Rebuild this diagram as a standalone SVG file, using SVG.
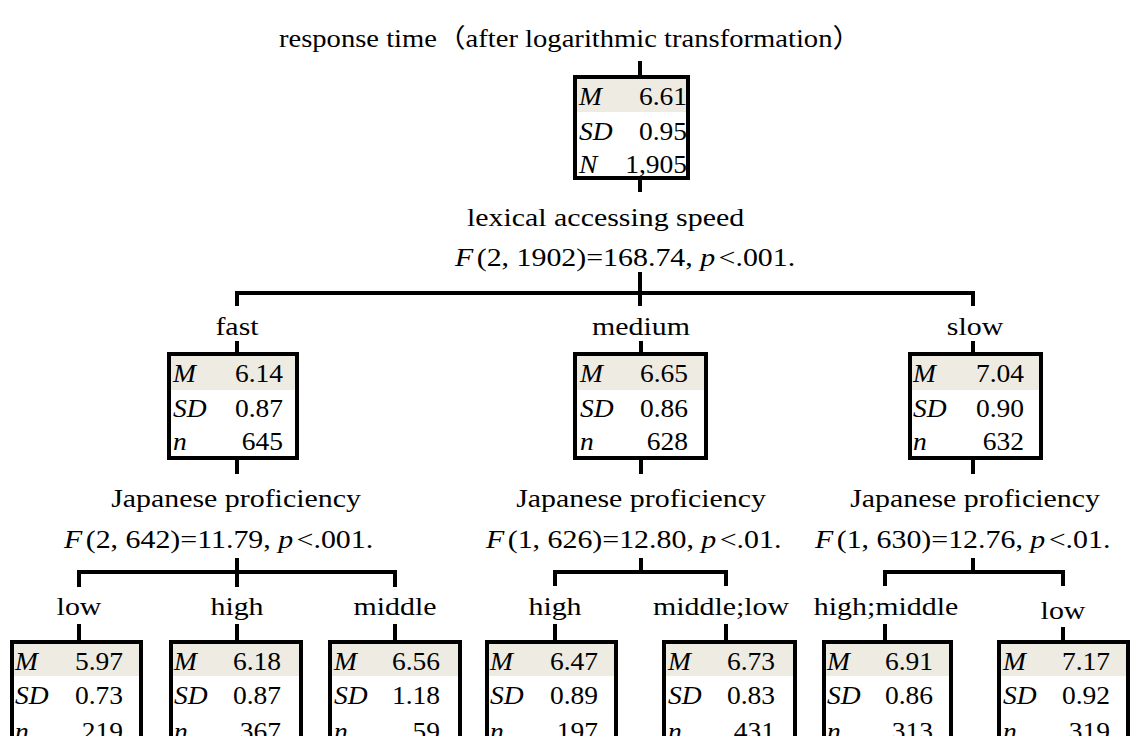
<svg xmlns="http://www.w3.org/2000/svg" width="1141" height="736" viewBox="0 0 1141 736" font-family="'Liberation Serif', 'Noto Sans CJK JP', serif">
<style>
  .bg{fill:#ffffff}
  .box{fill:#ffffff;stroke:#000000;stroke-width:4}
  .sh{fill:#EDEBE2}
  .ln{fill:none;stroke:#000000;stroke-width:4;stroke-linejoin:miter}
  .lbl{font-family:'Liberation Serif','Noto Sans CJK JP',serif;font-size:26px;text-anchor:middle;fill:#000000}
  .st{font-family:'Liberation Serif','Noto Sans CJK JP',serif;font-size:26px;text-anchor:start;fill:#000000}
  .k{font-family:'Liberation Serif',serif;font-size:25px;font-style:italic;text-anchor:start;fill:#000000}
  .v{font-family:'Liberation Serif',serif;font-size:25px;text-anchor:end;fill:#000000}
  .i{font-style:italic}
</style>
<rect class="bg" x="0" y="0" width="1141" height="736"/>

<g id="connectors">
  <path class="ln" d="M640,61 V77"/>
  <path class="ln" d="M640,178 V192"/>
  <path class="ln" d="M640,272 V306"/>
  <path class="ln" d="M237,306 V293 H973 V306"/>
  <path class="ln" d="M237,341 V354 M641,341 V354 M973,341 V354"/>
  <path class="ln" d="M237,458 V474 M641,458 V474 M973,458 V474"/>
  <path class="ln" d="M237,558 V587"/>
  <path class="ln" d="M79,587 V572 H395 V587"/>
  <path class="ln" d="M641,558 V572"/>
  <path class="ln" d="M555,586 V572 H726 V586"/>
  <path class="ln" d="M973,558 V572"/>
  <path class="ln" d="M885,586 V572 H1063 V586"/>
  <path class="ln" d="M79,624 V642 M237,624 V642 M395,624 V642 M555,624 V642 M726,624 V642 M885,624 V642 M1063,627 V642"/>
</g>

<g id="title">
  <text class="lbl" transform="translate(570,47) scale(1.1,1)">response time（after logarithmic transformation）</text>
</g>

<g id="node-root">
  <rect class="box" x="575" y="77" width="113" height="101"/>
  <rect class="sh" x="577" y="79" width="109" height="33"/>
  <text class="k" transform="translate(579,105) scale(1.1,1)">M</text>
  <text class="v" transform="translate(687,105) scale(1.1,1)">6.61</text>
  <text class="k" transform="translate(579,140) scale(1.1,1)">SD</text>
  <text class="v" transform="translate(687,140) scale(1.1,1)">0.95</text>
  <text class="k" transform="translate(579,173) scale(1.1,1)">N</text>
  <text class="v" transform="translate(687,173) scale(1.1,1)">1,905</text>
</g>

<g id="split-root">
  <text class="st" transform="translate(467,226) scale(1.15,1)">lexical accessing speed</text>
  <text class="st" transform="translate(455,266) scale(1.15,1)"><tspan class="i">F</tspan><tspan dx="3">(2, 1902)=168.74, </tspan><tspan class="i">p</tspan><tspan dx="3">&lt;.001.</tspan></text>
</g>

<g id="node-fast">
  <text class="lbl" transform="translate(237,335) scale(1.15,1)">fast</text>
  <rect class="box" x="169" y="354" width="128" height="104"/>
  <rect class="sh" x="171" y="356" width="124" height="34"/>
  <text class="k" transform="translate(173,382) scale(1.1,1)">M</text>
  <text class="v" transform="translate(283,382) scale(1.1,1)">6.14</text>
  <text class="k" transform="translate(173,417) scale(1.1,1)">SD</text>
  <text class="v" transform="translate(283,417) scale(1.1,1)">0.87</text>
  <text class="k" transform="translate(173,450) scale(1.1,1)">n</text>
  <text class="v" transform="translate(283,450) scale(1.1,1)">645</text>
  <text class="lbl" transform="translate(236,507) scale(1.15,1)">Japanese proficiency</text>
  <text class="st" transform="translate(64,548) scale(1.15,1)"><tspan class="i">F</tspan><tspan dx="3">(2, 642)=11.79, </tspan><tspan class="i">p</tspan><tspan dx="3">&lt;.001.</tspan></text>
</g>

<g id="node-medium">
  <text class="lbl" transform="translate(641,335) scale(1.15,1)">medium</text>
  <rect class="box" x="575" y="354" width="131" height="104"/>
  <rect class="sh" x="577" y="356" width="127" height="34"/>
  <text class="k" transform="translate(580,382) scale(1.1,1)">M</text>
  <text class="v" transform="translate(688,382) scale(1.1,1)">6.65</text>
  <text class="k" transform="translate(580,417) scale(1.1,1)">SD</text>
  <text class="v" transform="translate(688,417) scale(1.1,1)">0.86</text>
  <text class="k" transform="translate(580,450) scale(1.1,1)">n</text>
  <text class="v" transform="translate(688,450) scale(1.1,1)">628</text>
  <text class="lbl" transform="translate(641,507) scale(1.15,1)">Japanese proficiency</text>
  <text class="st" transform="translate(486,548) scale(1.15,1)"><tspan class="i">F</tspan><tspan dx="3">(1, 626)=12.80, </tspan><tspan class="i">p</tspan><tspan dx="3">&lt;.01.</tspan></text>
</g>

<g id="node-slow">
  <text class="lbl" transform="translate(975,335) scale(1.15,1)">slow</text>
  <rect class="box" x="910" y="354" width="131" height="104"/>
  <rect class="sh" x="912" y="356" width="127" height="34"/>
  <text class="k" transform="translate(913,382) scale(1.1,1)">M</text>
  <text class="v" transform="translate(1024,382) scale(1.1,1)">7.04</text>
  <text class="k" transform="translate(913,417) scale(1.1,1)">SD</text>
  <text class="v" transform="translate(1024,417) scale(1.1,1)">0.90</text>
  <text class="k" transform="translate(913,450) scale(1.1,1)">n</text>
  <text class="v" transform="translate(1024,450) scale(1.1,1)">632</text>
  <text class="lbl" transform="translate(975,507) scale(1.15,1)">Japanese proficiency</text>
  <text class="st" transform="translate(815,548) scale(1.15,1)"><tspan class="i">F</tspan><tspan dx="3">(1, 630)=12.76, </tspan><tspan class="i">p</tspan><tspan dx="3">&lt;.01.</tspan></text>
</g>

<g id="node-fast-low">
  <text class="lbl" transform="translate(79,615) scale(1.15,1)">low</text>
  <rect class="box" x="12" y="642" width="129" height="110"/>
  <rect class="sh" x="14" y="644" width="125" height="32"/>
  <text class="k" transform="translate(15,670) scale(1.1,1)">M</text>
  <text class="v" transform="translate(123,670) scale(1.1,1)">5.97</text>
  <text class="k" transform="translate(15,704) scale(1.1,1)">SD</text>
  <text class="v" transform="translate(123,704) scale(1.1,1)">0.73</text>
  <text class="k" transform="translate(15,740) scale(1.1,1)">n</text>
  <text class="v" transform="translate(123,740) scale(1.1,1)">219</text>
</g>

<g id="node-fast-high">
  <text class="lbl" transform="translate(237,615) scale(1.15,1)">high</text>
  <rect class="box" x="171" y="642" width="130" height="110"/>
  <rect class="sh" x="173" y="644" width="126" height="32"/>
  <text class="k" transform="translate(174,670) scale(1.1,1)">M</text>
  <text class="v" transform="translate(281,670) scale(1.1,1)">6.18</text>
  <text class="k" transform="translate(174,704) scale(1.1,1)">SD</text>
  <text class="v" transform="translate(281,704) scale(1.1,1)">0.87</text>
  <text class="k" transform="translate(174,740) scale(1.1,1)">n</text>
  <text class="v" transform="translate(281,740) scale(1.1,1)">367</text>
</g>

<g id="node-fast-middle">
  <text class="lbl" transform="translate(395,615) scale(1.15,1)">middle</text>
  <rect class="box" x="330" y="642" width="130" height="110"/>
  <rect class="sh" x="332" y="644" width="126" height="32"/>
  <text class="k" transform="translate(334,670) scale(1.1,1)">M</text>
  <text class="v" transform="translate(440,670) scale(1.1,1)">6.56</text>
  <text class="k" transform="translate(334,704) scale(1.1,1)">SD</text>
  <text class="v" transform="translate(440,704) scale(1.1,1)">1.18</text>
  <text class="k" transform="translate(334,740) scale(1.1,1)">n</text>
  <text class="v" transform="translate(440,740) scale(1.1,1)">59</text>
</g>

<g id="node-medium-high">
  <text class="lbl" transform="translate(555,615) scale(1.15,1)">high</text>
  <rect class="box" x="487" y="642" width="129" height="110"/>
  <rect class="sh" x="489" y="644" width="125" height="32"/>
  <text class="k" transform="translate(490,670) scale(1.1,1)">M</text>
  <text class="v" transform="translate(598,670) scale(1.1,1)">6.47</text>
  <text class="k" transform="translate(490,704) scale(1.1,1)">SD</text>
  <text class="v" transform="translate(598,704) scale(1.1,1)">0.89</text>
  <text class="k" transform="translate(490,740) scale(1.1,1)">n</text>
  <text class="v" transform="translate(598,740) scale(1.1,1)">197</text>
</g>

<g id="node-medium-middlelow">
  <text class="lbl" transform="translate(721,615) scale(1.15,1)">middle;low</text>
  <rect class="box" x="664" y="642" width="131" height="110"/>
  <rect class="sh" x="666" y="644" width="127" height="32"/>
  <text class="k" transform="translate(668,670) scale(1.1,1)">M</text>
  <text class="v" transform="translate(775,670) scale(1.1,1)">6.73</text>
  <text class="k" transform="translate(668,704) scale(1.1,1)">SD</text>
  <text class="v" transform="translate(775,704) scale(1.1,1)">0.83</text>
  <text class="k" transform="translate(668,740) scale(1.1,1)">n</text>
  <text class="v" transform="translate(775,740) scale(1.1,1)">431</text>
</g>

<g id="node-slow-highmiddle">
  <text class="lbl" transform="translate(886,615) scale(1.15,1)">high;middle</text>
  <rect class="box" x="824" y="642" width="127" height="110"/>
  <rect class="sh" x="826" y="644" width="123" height="32"/>
  <text class="k" transform="translate(827,670) scale(1.1,1)">M</text>
  <text class="v" transform="translate(933,670) scale(1.1,1)">6.91</text>
  <text class="k" transform="translate(827,704) scale(1.1,1)">SD</text>
  <text class="v" transform="translate(933,704) scale(1.1,1)">0.86</text>
  <text class="k" transform="translate(827,740) scale(1.1,1)">n</text>
  <text class="v" transform="translate(933,740) scale(1.1,1)">313</text>
</g>

<g id="node-slow-low">
  <text class="lbl" transform="translate(1063,619) scale(1.15,1)">low</text>
  <rect class="box" x="999" y="642" width="129" height="110"/>
  <rect class="sh" x="1001" y="644" width="125" height="32"/>
  <text class="k" transform="translate(1003,670) scale(1.1,1)">M</text>
  <text class="v" transform="translate(1110,670) scale(1.1,1)">7.17</text>
  <text class="k" transform="translate(1003,704) scale(1.1,1)">SD</text>
  <text class="v" transform="translate(1110,704) scale(1.1,1)">0.92</text>
  <text class="k" transform="translate(1003,740) scale(1.1,1)">n</text>
  <text class="v" transform="translate(1110,740) scale(1.1,1)">319</text>
</g>
</svg>
